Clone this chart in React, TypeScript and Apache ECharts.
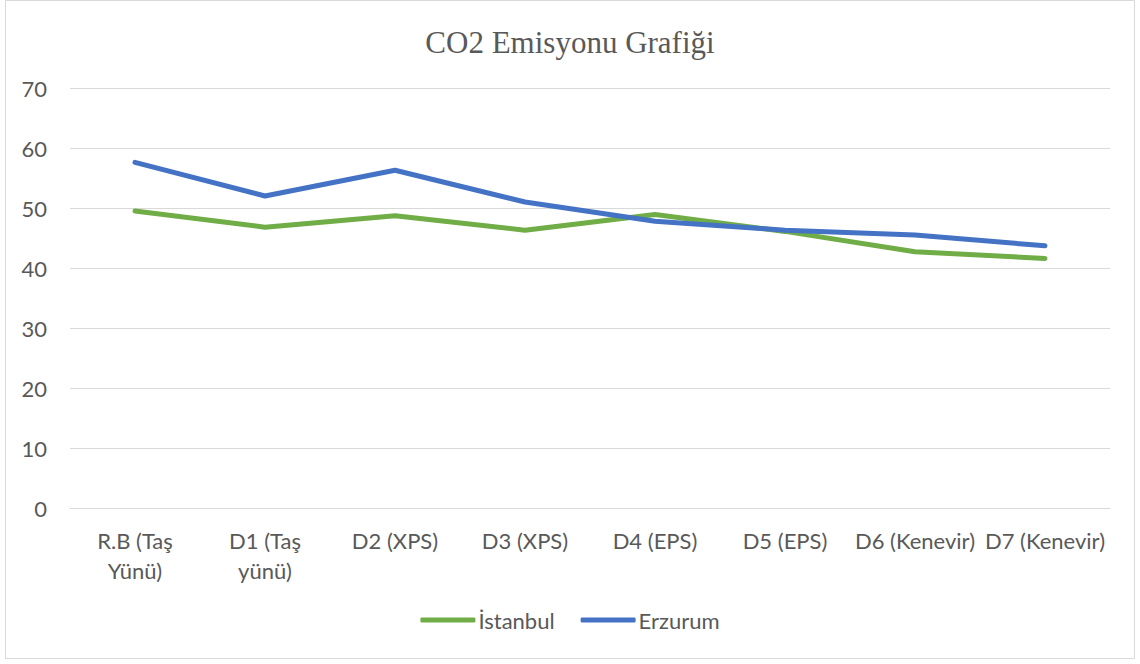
import React, { useEffect, useRef } from "react";
import * as echarts from "echarts";

const categories = [
  "R.B (Taş Yünü)",
  "D1 (Taş yünü)",
  "D2 (XPS)",
  "D3 (XPS)",
  "D4 (EPS)",
  "D5 (EPS)",
  "D6 (Kenevir)",
  "D7 (Kenevir)",
];
const istanbul = [49.5, 46.8, 48.7, 46.3, 48.9, 46.1, 42.7, 41.6];
const erzurum = [57.6, 52.0, 56.3, 51.0, 47.8, 46.3, 45.5, 43.7];
const seriesNames = ["İstanbul", "Erzurum"];
const titleText = "CO2 Emisyonu Grafiği";

export default function App() {
  const ref = useRef<HTMLDivElement>(null);
  useEffect(() => {
    if (!ref.current) return;
    const chart = echarts.init(ref.current, null, { renderer: "svg" });
    const labelFont = "Lato, 'Noto Sans', sans-serif";
    chart.setOption({
      animation: false,
      backgroundColor: "#ffffff",
      title: {
        text: titleText,
        left: "center",
        top: 22,
        textStyle: {
          fontFamily: "'Liberation Serif', 'DejaVu Serif', serif",
          fontSize: 31,
          fontWeight: "normal",
          color: "#595959",
        },
      },
      graphic: [
        {
          type: "rect",
          shape: { x: 5.5, y: 0.5, width: 1129, height: 658 },
          style: { fill: "none", stroke: "#D9D9D9", lineWidth: 1 },
          silent: true,
        },
      ],
      grid: { left: 70, right: 30, top: 88, bottom: 156, containLabel: false },
      legend: {
        data: seriesNames,
        top: 604,
        left: "center",
        icon: "roundRect",
        itemWidth: 55,
        itemHeight: 5,
        itemGap: 26,
        textStyle: { fontFamily: labelFont, fontSize: 22, color: "#595959", padding: [0, 0, 0, -2] },
      },
      xAxis: {
        type: "category",
        data: categories,
        boundaryGap: true,
        axisLine: { show: true, lineStyle: { color: "#D9D9D9", width: 1 } },
        axisTick: { show: false },
        axisLabel: {
          interval: 0,
          margin: 17,
          fontFamily: labelFont,
          fontSize: 22,
          color: "#595959",
          lineHeight: 30,
          formatter: (v: string) => (v.includes("Taş") ? v.replace(/ (\S+)$/, "\n$1") : v),
        },
      },
      yAxis: {
        type: "value",
        min: 0,
        max: 70,
        interval: 10,
        axisLine: { show: false },
        axisTick: { show: false },
        splitLine: { lineStyle: { color: "#D9D9D9", width: 1 } },
        axisLabel: {
          margin: 23,
          fontFamily: labelFont,
          fontSize: 22,
          color: "#595959",
        },
      },
      series: [
        {
          name: seriesNames[0],
          type: "line",
          data: istanbul,
          symbol: "none",
          color: "#70AD47",
          lineStyle: { width: 5, color: "#70AD47", cap: "round", join: "round" },
        },
        {
          name: seriesNames[1],
          type: "line",
          data: erzurum,
          symbol: "none",
          color: "#4472C4",
          lineStyle: { width: 5, color: "#4472C4", cap: "round", join: "round" },
        },
      ],
    });
    return () => chart.dispose();
  }, []);
  return (
    <div
      ref={ref}
      style={{ position: "fixed", left: 0, top: 0, width: 1140, height: 664 }}
    />
  );
}
